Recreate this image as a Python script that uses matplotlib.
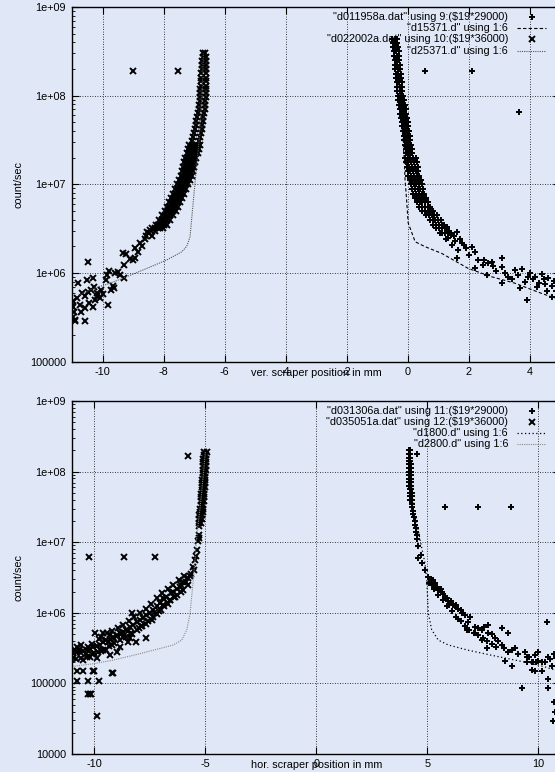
import numpy as np
import matplotlib.pyplot as plt
from matplotlib.ticker import FuncFormatter, LogLocator, NullFormatter

plt.rcParams['font.family'] = ['Liberation Sans', 'DejaVu Sans']
plt.rcParams['font.size'] = 7.8
bg = '#e0e8f8'

# ---------------- top panel (vertical scraper) ----------------
# "d011958a.dat" using 9:($19*29000)   (+)  dense band
tr_band_y = [4.37e8, 3.98e8, 3.55e8, 3.16e8, 2.82e8, 2.51e8, 2.24e8, 2.0e8, 1.78e8, 1.58e8,
             1.41e8, 1.26e8, 1.12e8, 1.0e8, 8.9e7, 7.9e7, 7.1e7, 6.3e7, 5.6e7, 5.0e7,
             4.5e7, 4.0e7, 3.5e7, 3.2e7, 2.8e7, 2.5e7, 2.24e7, 2.0e7, 1.78e7, 1.58e7,
             1.41e7, 1.26e7, 1.12e7, 1.0e7, 8.9e6, 7.9e6, 7.1e6, 6.3e6, 5.6e6, 5.0e6,
             4.5e6, 4.0e6, 3.5e6, 3.2e6, 2.8e6]
tr_band_xc = [-0.43, -0.42, -0.40, -0.385, -0.37, -0.355, -0.34, -0.325, -0.31, -0.295,
              -0.28, -0.27, -0.26, -0.24, -0.22, -0.195, -0.17, -0.145, -0.12, -0.10,
              -0.08, -0.06, -0.04, -0.02, 0.00, 0.025, 0.05, 0.08, 0.11, 0.14,
              0.17, 0.20, 0.24, 0.28, 0.32, 0.36, 0.42, 0.48, 0.56, 0.66,
              0.78, 0.90, 1.02, 1.12, 1.22]
tr_band_xl = [-0.51, -0.50, -0.48, -0.465, -0.45, -0.435, -0.42, -0.405, -0.39, -0.375,
              -0.36, -0.35, -0.34, -0.32, -0.32, -0.295, -0.27, -0.245, -0.22, -0.20,
              -0.18, -0.16, -0.14, -0.12, -0.10, -0.075, -0.05, -0.10, -0.07, -0.04,
              -0.01, 0.02, 0.06, 0.10, 0.14, 0.18, 0.24, 0.30, 0.38, 0.48,
              0.60, 0.72, 0.84, 0.94, 1.04]
tr_band_xr = [-0.35, -0.34, -0.32, -0.305, -0.29, -0.275, -0.26, -0.245, -0.23, -0.215,
              -0.20, -0.19, -0.18, -0.16, -0.12, -0.095, -0.07, -0.045, -0.02, 0.00,
              0.02, 0.04, 0.06, 0.08, 0.10, 0.125, 0.15, 0.26, 0.29, 0.32,
              0.35, 0.38, 0.42, 0.46, 0.50, 0.54, 0.60, 0.66, 0.74, 0.84,
              0.96, 1.08, 1.20, 1.30, 1.40]
# extra columns filling the lower, wider part of the band (same levels from 8.9e7 down)
tr_band2_y = tr_band_y[14:]
tr_band2_xl = [-0.27, -0.245, -0.22, -0.195, -0.17, -0.15, -0.13, -0.11, -0.09, -0.07, -0.05,
               -0.025, 0.00, -0.01, 0.02, 0.05, 0.08, 0.11, 0.15, 0.19, 0.23, 0.27, 0.33,
               0.39, 0.47, 0.57, 0.69, 0.81, 0.93, 1.03, 1.13]
tr_band2_xr = [-0.17, -0.145, -0.12, -0.095, -0.07, -0.05, -0.03, -0.01, 0.01, 0.03, 0.05,
               0.075, 0.10, 0.17, 0.20, 0.23, 0.26, 0.29, 0.33, 0.37, 0.41, 0.45, 0.51,
               0.57, 0.65, 0.75, 0.87, 0.99, 1.11, 1.21, 1.31]
# scattered tail and outliers
tr_x = [1.32, 1.77, 1.65, 2.2, 1.6, 2.3, 2.63, 3.08, 3.08, 3.51, 3.73, 4.0, 4.17, 4.39, 4.61,
        4.72, 3.9, 3.08, 3.68, 2.59, 3.3, 2.2, 4.72, 1.45, 1.9, 1.55, 2.0, 2.45, 2.8, 2.9,
        3.2, 3.4, 3.6, 3.85, 4.1, 4.3, 4.5, 4.8, 4.25, 4.55, 2.75, 3.95, 4.45, 4.85, 1.25,
        1.4, 1.72, 1.85, 2.1, 2.5, 1.35, 1.5, 1.62, 1.28, 0.56, 2.1, 3.65]
tr_y = [2.5e6, 2.2e6, 1.8e6, 1.74e6, 1.5e6, 1.41e6, 1.29e6, 1.48e6, 1.17e6, 1.08e6, 1.12e6,
        1.0e6, 9.1e5, 9.9e5, 8.7e5, 7.1e5, 5.0e5, 7.7e5, 6.8e5, 9.5e5, 9.1e5, 1.15e6, 5.4e5,
        2.1e6, 1.9e6, 2.3e6, 1.6e6, 1.25e6, 1.2e6, 1.05e6, 1.0e6, 8.5e5, 9.5e5, 8.0e5, 8.5e5,
        7.8e5, 7.6e5, 8.2e5, 6.9e5, 6.3e5, 1.35e6, 9.0e5, 8.6e5, 6.3e5, 2.4e6, 2.7e6, 2.45e6,
        2.05e6, 1.95e6, 1.4e6, 3.0e6, 2.6e6, 2.9e6, 3.3e6, 1.9e8, 1.9e8, 6.5e7]

# "d15371.d" using 1:6  (dashed)
t_dash_x = [-0.42, -0.3, -0.2, -0.12, -0.09, -0.04, 0.01, 0.24, 0.56, 1.11, 1.98, 2.75, 3.51, 4.39, 5.0]
t_dash_y = [4.4e8, 1.5e8, 5e7, 2e7, 1.12e7, 6.7e6, 3.7e6, 2.26e6, 1.99e6, 1.67e6, 1.13e6,
            9.1e5, 7.7e5, 5.9e5, 5.0e5]

# "d022002a.dat" using 10:($19*36000)  (x)  dense band, upper part
tl_band1_y = [3.0e8, 2.7e8, 2.45e8, 2.2e8, 2.0e8, 1.8e8, 1.6e8, 1.45e8, 1.3e8, 1.2e8, 1.07e8,
              9.7e7, 8.7e7, 7.9e7, 7.1e7, 6.4e7, 5.8e7, 5.2e7, 4.7e7, 4.2e7, 3.8e7, 3.4e7, 3.1e7]
tl_band1_xl = [-6.72, -6.73, -6.74, -6.75, -6.76, -6.77, -6.77, -6.78, -6.79, -6.80, -6.80,
               -6.81, -6.82, -6.84, -6.86, -6.88, -6.90, -6.93, -6.95, -6.97, -7.00, -7.03, -7.06]
tl_band1_xr = [-6.64, -6.63, -6.62, -6.62, -6.61, -6.61, -6.61, -6.61, -6.61, -6.61, -6.62,
               -6.63, -6.64, -6.65, -6.66, -6.68, -6.70, -6.72, -6.74, -6.76, -6.79, -6.82, -6.85]
# lower slanted part of the band
tl_band2_y = [2.8e7, 2.5e7, 2.24e7, 2.0e7, 1.78e7, 1.58e7, 1.41e7, 1.26e7, 1.12e7, 1.0e7,
              8.9e6, 7.9e6, 7.1e6, 6.3e6, 5.6e6, 5.0e6, 4.5e6, 4.0e6, 3.5e6, 3.2e6]
tl_band2_xc = [-6.99, -7.03, -7.07, -7.11, -7.15, -7.19, -7.23, -7.27, -7.32, -7.38,
               -7.45, -7.52, -7.58, -7.65, -7.71, -7.78, -7.88, -7.98, -8.09, -8.20]
tl_band2_xl = [-7.17, -7.21, -7.25, -7.29, -7.33, -7.37, -7.41, -7.45, -7.50, -7.56,
               -7.63, -7.70, -7.76, -7.83, -7.89, -7.96, -8.06, -8.16, -8.27, -8.38]
tl_band2_xr = [-6.81, -6.85, -6.89, -6.93, -6.97, -7.01, -7.05, -7.09, -7.14, -7.20,
               -7.27, -7.34, -7.40, -7.47, -7.53, -7.60, -7.70, -7.80, -7.91, -8.02]
tl_band2_xl2 = [-7.08, -7.12, -7.16, -7.20, -7.24, -7.28, -7.32, -7.36, -7.41, -7.47,
                -7.54, -7.61, -7.67, -7.74, -7.80, -7.87, -7.97, -8.07, -8.18, -8.29]
tl_band2_xr2 = [-6.90, -6.94, -6.98, -7.02, -7.06, -7.10, -7.14, -7.18, -7.23, -7.29,
                -7.36, -7.43, -7.49, -7.56, -7.62, -7.69, -7.79, -7.89, -8.00, -8.11]
tl_x = [-9.02, -7.54, -8.45, -8.6, -8.78, -8.7, -8.94, -8.85, -9.33, -9.25, -9.0, -9.1, -8.95,
        -9.3, -9.5, -9.6, -9.86, -9.8, -9.3, -9.45, -9.66, -9.72, -9.62, -10.32, -10.52, -10.81,
        -10.48, -10.68, -10.19, -10.09, -10.75, -10.32, -9.83, -10.98, -10.98, -10.9, -10.58,
        -10.98, -10.4, -10.3, -10.6, -10.5, -10.85, -10.2, -10.05, -9.9, -10.0, -10.7, -10.45,
        -10.25, -10.95, -11.0, -10.9, -10.6, -8.5, -8.3, -8.62, -8.4, -8.55]
tl_y = [1.9e8, 1.9e8, 3.1e6, 2.6e6, 2.2e6, 2.0e6, 1.9e6, 1.75e6, 1.7e6, 1.65e6, 1.4e6, 1.45e6,
        1.5e6, 1.25e6, 1.04e6, 1.0e6, 9.6e5, 1.05e6, 8.8e5, 9.5e5, 7.1e5, 6.4e5, 6.8e5, 8.8e5,
        8.3e5, 7.8e5, 1.35e6, 6.0e5, 6.0e5, 5.2e5, 4.4e5, 4.1e5, 4.4e5, 4.1e5, 3.2e5, 2.9e5,
        2.9e5, 4.8e5, 6.5e5, 7.0e5, 5.5e5, 6.2e5, 5.3e5, 5.5e5, 6.5e5, 8.3e5, 5.8e5, 3.6e5,
        4.6e5, 5.0e5, 3.6e5, 4.3e5, 3.0e5, 4.0e5, 2.8e6, 3.0e6, 2.4e6, 2.6e6, 2.9e6]

# "d25371.d" using 1:6  (dotted)
t_dot_x = [-10.8, -10.26, -9.76, -9.22, -8.56, -7.9, -7.41, -7.25, -7.14, -7.09, -7.03, -6.98,
           -6.85, -6.75, -6.7]
t_dot_y = [5.6e5, 6.8e5, 7.7e5, 9.1e5, 1.13e6, 1.41e6, 1.74e6, 2.0e6, 2.57e6, 4.0e6, 6.6e6,
           1.02e7, 3e7, 1e8, 3e8]

# ---------------- bottom panel (horizontal scraper) ----------------
# "d031306a.dat" using 11:($19*29000)  (+)
br_band_y = [2.0e8, 1.78e8, 1.58e8, 1.41e8, 1.26e8, 1.12e8, 1.0e8, 8.9e7, 7.9e7, 7.1e7,
             6.3e7, 5.6e7, 5.0e7, 4.5e7, 4.0e7]
br_band_xl = [4.16, 4.16, 4.16, 4.165, 4.17, 4.17, 4.175, 4.18, 4.185, 4.19, 4.20, 4.21, 4.22, 4.23, 4.24]
br_band_xr = [4.24, 4.24, 4.24, 4.245, 4.25, 4.25, 4.255, 4.26, 4.265, 4.27, 4.28, 4.29, 4.30, 4.31, 4.32]
br_x = [4.30, 4.33, 4.35, 4.38, 4.40, 4.43, 4.45, 4.48, 4.50, 4.52, 4.54,
        4.60, 4.60, 4.75, 4.90, 5.05, 5.28, 5.43, 5.50, 5.655, 5.80, 5.95, 6.18, 6.40, 6.63, 6.93,
        6.25, 6.56, 6.85, 7.16, 7.46, 7.76, 8.06, 8.36, 8.66, 8.96, 9.41, 9.71, 10.01, 10.16,
        10.46, 10.61, 9.86, 10.46, 9.26, 10.46, 10.73, 10.69, 10.39, 8.36, 8.66, 7.76, 7.46,
        7.68, 8.81, 8.51, 6.40, 6.78, 7.16, 9.5, 9.71, 10.16, 7.3, 7.55, 7.9, 8.2, 8.45, 8.8,
        9.1, 9.5, 9.85, 10.0, 10.3, 10.55, 10.7, 9.6, 9.75, 9.9, 5.15, 5.35, 5.6, 5.7, 5.9,
        6.05, 6.3, 6.5, 6.7, 6.0, 5.2, 4.7, 10.8, 10.75,
        5.81, 7.27, 8.78, 4.53]
br_y = [3.5e7, 3.2e7, 2.8e7, 2.5e7, 2.24e7, 2.0e7, 1.78e7, 1.58e7, 1.41e7, 1.26e7, 1.12e7,
        8.7e6, 5.9e6, 5.0e6, 4.1e6, 3.2e6, 2.9e6, 2.34e6, 2.1e6, 2.0e6, 1.62e6, 1.45e6, 1.29e6,
        1.15e6, 9.8e5, 8.7e5, 1.23e6, 9.8e5, 7.4e5, 6.3e5, 5.75e5, 5.1e5, 4.4e5, 3.5e5, 2.8e5,
        3.2e5, 2.8e5, 2.0e5, 2.8e5, 2.0e5, 2.4e5, 1.74e5, 1.48e5, 1.17e5, 8.5e4, 8.5e4, 5.5e4,
        2.9e4, 7.4e5, 6.0e5, 5.1e5, 6.8e5, 4.1e5, 3.2e5, 1.74e5, 2.1e5, 8.1e5, 5.75e5, 5.1e5,
        2.0e5, 1.55e5, 1.48e5, 6.0e5, 6.3e5, 5.0e5, 4.0e5, 3.2e5, 3.0e5, 2.6e5, 2.4e5, 2.5e5,
        2.1e5, 2.0e5, 2.2e5, 2.6e5, 2.4e5, 2.0e5, 2.0e5, 3.0e6, 2.6e6, 2.2e6, 1.85e6, 1.6e6,
        1.45e6, 1.3e6, 1.1e6, 9.2e5, 1.3e6, 2.5e6, 6.5e6, 2.3e5, 4.0e4,
        3.1e7, 3.1e7, 3.1e7, 1.8e8]
# second, lower track of the same data set
br2_x = [5.1, 5.3, 5.5, 5.7, 5.9, 6.1, 6.3, 6.5, 6.7, 6.9, 7.1, 7.3, 7.5, 7.7, 7.9, 8.1]
br2_y = [2.6e6, 2.2e6, 1.8e6, 1.5e6, 1.25e6, 1.05e6, 8.8e5, 7.6e5, 6.5e5, 5.7e5, 5.2e5, 4.8e5,
         4.4e5, 4.0e5, 3.6e5, 3.3e5]

# "d1800.d" using 1:6
b_dot1_x = [4.2, 4.3, 4.45, 4.7, 4.9, 4.98, 5.05, 5.2, 5.5, 5.95, 6.85, 7.91, 8.96, 10.01, 10.76, 11.0]
b_dot1_y = [2.0e8, 6.3e7, 2.5e7, 1.0e7, 5.0e6, 2.9e6, 9.8e5, 5.75e5, 4.1e5, 3.5e5, 2.95e5,
            2.5e5, 2.14e5, 1.82e5, 1.55e5, 1.48e5]

# "d035051a.dat" using 12:($19*36000)  (x)
bl_band_y = [1.9e8, 1.7e8, 1.51e8, 1.35e8, 1.2e8, 1.07e8, 9.5e7, 8.5e7, 7.6e7, 6.8e7, 6.0e7,
             5.4e7, 4.8e7, 4.3e7, 3.8e7, 3.4e7, 3.0e7, 2.7e7, 2.4e7, 2.1e7, 1.9e7]
bl_band_xl = [-5.07, -5.08, -5.09, -5.10, -5.10, -5.11, -5.12, -5.13, -5.14, -5.15, -5.16,
              -5.17, -5.18, -5.19, -5.20, -5.21, -5.23, -5.25, -5.27, -5.29, -5.31]
bl_band_xr = [-4.95, -4.96, -4.97, -4.98, -4.98, -4.99, -5.00, -5.01, -5.02, -5.03, -5.04,
              -5.05, -5.06, -5.07, -5.08, -5.09, -5.11, -5.13, -5.15, -5.17, -5.19]
bl_x = [-5.30, -5.30, -5.27, -5.33, -5.37, -5.41, -5.45, -5.57, -5.52, -5.64, -5.7, -5.79, -5.86,
        -6.02, -6.1, -6.16, -6.3, -6.46, -6.55, -6.76, -6.85, -6.91, -7.06, -7.2, -7.36, -7.5,
        -7.66, -7.8, -7.96, -8.1, -8.26, -8.4, -8.56, -8.7, -8.86, -9.0, -9.16, -9.3, -9.46,
        -9.6, -9.76, -9.9, -10.06, -10.2, -10.35, -10.5, -10.65, -10.8, -10.95,
        -10.95, -10.5, -9.9, -9.3, -9.0, -8.86, -9.61, -9.98, -7.66, -8.11, -8.49, -8.29, -10.8,
        -10.7, -10.4, -10.2, -10.0, -9.7, -9.5, -9.2, -9.4, -9.8, -10.1, -10.6, -10.9, -10.3,
        -9.1, -8.7, -8.3, -8.0, -7.7, -7.9, -7.4, -7.2, -7.0, -6.7, -6.6, -6.3, -6.0, -5.8,
        -7.3, -6.9, -6.4, -8.5, -8.8, -9.3, -8.4,
        -10.8, -10.5, -10.06, -10.0, -9.23, -9.15, -10.8, -10.28, -9.8, -10.3, -10.2, -10.15,
        -9.9, -10.24, -8.67, -7.29, -5.79]
bl_y = [1.7e7, 1.26e7, 1.14e7, 1.05e7, 7.8e6, 6.3e6, 5.6e6, 4.5e6, 4.0e6, 3.6e6, 3.3e6, 3.1e6,
        2.75e6, 2.75e6, 2.5e6, 2.34e6, 2.2e6, 2.0e6, 1.9e6, 1.7e6, 1.55e6, 1.62e6, 1.36e6,
        1.25e6, 1.1e6, 1.0e6, 9.3e5, 8.5e5, 7.9e5, 7.3e5, 6.8e5, 6.2e5, 5.75e5, 5.4e5, 5.1e5,
        4.8e5, 4.6e5, 4.3e5, 4.1e5, 3.8e5, 3.5e5, 3.4e5, 3.3e5, 3.1e5, 2.95e5, 2.9e5, 2.8e5,
        2.75e5, 2.7e5,
        2.3e5, 2.15e5, 2.3e5, 2.5e5, 2.8e5, 3.3e5, 5.1e5, 5.1e5, 4.4e5, 3.9e5, 3.9e5, 9.8e5,
        3.3e5, 3.0e5, 2.6e5, 2.4e5, 2.7e5, 2.9e5, 3.0e5, 3.5e5, 3.8e5, 4.2e5, 3.6e5, 3.5e5,
        3.0e5, 3.3e5, 4.2e5, 4.6e5, 5.0e5, 6.0e5, 7.0e5, 6.6e5, 8.0e5, 9.5e5, 1.1e6, 1.35e6,
        1.5e6, 1.8e6, 2.1e6, 2.5e6, 1.0e6, 1.3e6, 1.7e6, 5.5e5, 5.0e5, 4.8e5, 4.4e5,
        1.48e5, 1.48e5, 1.48e5, 1.48e5, 1.41e5, 1.41e5, 1.07e5, 1.07e5, 1.07e5, 7.1e4, 7.1e4,
        7.1e4, 3.5e4, 6.2e6, 6.2e6, 6.2e6, 1.68e8]
# upper and lower edges of the thick trail
bl_up_x = [-5.95, -6.2, -6.45, -6.7, -6.95, -7.2, -7.45, -7.7, -7.95, -8.2, -8.45, -8.7, -8.95,
           -9.2, -9.45, -9.7]
bl_up_y = [3.3e6, 2.9e6, 2.5e6, 2.2e6, 1.9e6, 1.6e6, 1.35e6, 1.15e6, 1.0e6, 8.8e5, 7.7e5, 6.8e5,
           6.1e5, 5.6e5, 5.1e5, 4.5e5]
bl_dn_x = [-6.1, -6.35, -6.6, -6.85, -7.1, -7.35, -7.6, -7.85, -8.1, -8.35, -8.6, -8.85, -9.1,
           -9.35, -9.6, -9.85, -10.1, -10.35, -10.6, -10.85]
bl_dn_y = [2.0e6, 1.7e6, 1.5e6, 1.25e6, 1.07e6, 8.8e5, 7.6e5, 6.6e5, 5.8e5, 5.2e5, 4.6e5, 4.1e5,
           3.7e5, 3.4e5, 3.0e5, 2.8e5, 2.6e5, 2.4e5, 2.3e5, 2.2e5]

# "d2800.d" using 1:6
b_dot2_x = [-11.0, -10.05, -9.15, -8.25, -7.35, -6.45, -6.07, -5.84, -5.69, -5.62, -5.545,
            -5.39, -5.2, -5.0]
b_dot2_y = [1.74e5, 1.9e5, 2.14e5, 2.5e5, 2.95e5, 3.5e5, 4.1e5, 5.75e5, 9.8e5, 1.7e6, 2.9e6,
            1.2e7, 4e7, 1.9e8]

top_labels = ['"d011958a.dat" using 9:($19*29000)', '"d15371.d" using 1:6',
              '"d022002a.dat" using 10:($19*36000)', '"d25371.d" using 1:6']
bot_labels = ['"d031306a.dat" using 11:($19*29000)', '"d035051a.dat" using 12:($19*36000)',
              '"d1800.d" using 1:6', '"d2800.d" using 1:6']

plus = dict(ls='none', marker='+', color='k', ms=4.5, mew=1.4)
cross = dict(ls='none', marker='x', color='k', ms=4.0, mew=1.4)
dash = dict(color='k', lw=0.8, ls=(0, (3, 2)))
dotg = dict(color='#555555', lw=0.8, ls=(0, (1, 1)))
dotk = dict(color='k', lw=0.9, ls=(0, (1, 2)))
dotl = dict(color='#888888', lw=0.8, ls=(0, (1, 1)))


def style(ax, xlim, ylim, xticks, xlabel):
    ax.set_facecolor(bg)
    ax.set_yscale('log')
    ax.set_xlim(*xlim)
    ax.set_ylim(*ylim)
    ax.set_xticks(xticks)
    fmt = FuncFormatter(lambda v, p: '%g' % v)
    ax.xaxis.set_major_formatter(fmt)
    ax.yaxis.set_major_locator(LogLocator(base=10, numticks=20))
    ax.yaxis.set_minor_locator(LogLocator(base=10, subs=np.arange(2, 10), numticks=20))
    ax.yaxis.set_major_formatter(fmt)
    ax.yaxis.set_minor_formatter(NullFormatter())
    ax.tick_params(which='both', direction='in', top=True, right=True)
    ax.tick_params(which='major', length=5, width=0.8)
    ax.tick_params(which='minor', length=2.5, width=0.6)
    ax.tick_params(axis='x', pad=3.5)
    ax.tick_params(axis='y', pad=4.5)
    ax.grid(True, which='major', color='k', ls=(0, (1, 2)), lw=0.6)
    for s in ax.spines.values():
        s.set_linewidth(1.0)
    ax.set_xlabel(xlabel)
    ax.xaxis.set_label_coords(0.5, -0.031)
    ax.xaxis.label.set_va('center')
    ax.set_ylabel('count/sec')
    ax.yaxis.set_label_coords(-0.10, 0.5)


def key(ax, labels, rows, handles):
    for lab, yy, h in zip(labels, rows, handles):
        ax.text(0.893, yy, lab, transform=ax.transAxes, ha='right', va='center', parse_math=False)
        if 'marker' in h:
            ax.plot([0.941], [yy], transform=ax.transAxes, clip_on=False, **h)
        else:
            ax.plot([0.911, 0.970], [yy, yy], transform=ax.transAxes, clip_on=False, **h)


fig = plt.figure(figsize=(5.55, 7.72), dpi=100, facecolor=bg)
ax1 = fig.add_axes([0.1303, 0.5313, 0.8793, 0.4596])
ax2 = fig.add_axes([0.1303, 0.0233, 0.8793, 0.4573])

# top
for xs in (tr_band_xl, tr_band_xc, tr_band_xr):
    ax1.plot(xs, tr_band_y, **plus)
for xs in (tr_band2_xl, tr_band2_xr):
    ax1.plot(xs, tr_band2_y, **plus)
ax1.plot(tr_x, tr_y, **plus)
ax1.plot(t_dash_x, t_dash_y, **dash)
for xs, ys in ((tl_band1_xl, tl_band1_y), (tl_band1_xr, tl_band1_y),
               (tl_band2_xl, tl_band2_y), (tl_band2_xl2, tl_band2_y), (tl_band2_xc, tl_band2_y),
               (tl_band2_xr2, tl_band2_y), (tl_band2_xr, tl_band2_y)):
    ax1.plot(xs, ys, **cross)
ax1.plot(tl_x, tl_y, **cross)
ax1.plot(t_dot_x, t_dot_y, **dotg)
style(ax1, (-11, 5), (1e5, 1e9), [-10, -8, -6, -4, -2, 0, 2, 4], 'ver. scraper position in mm')
key(ax1, top_labels, [0.9727, 0.940, 0.909, 0.877], [plus, dash, cross, dotg])

# bottom
for xs in (br_band_xl, br_band_xr):
    ax2.plot(xs, br_band_y, **plus)
ax2.plot(br_x, br_y, **plus)
ax2.plot(br2_x, br2_y, **plus)
for xs in (bl_band_xl, bl_band_xr):
    ax2.plot(xs, bl_band_y, **cross)
ax2.plot(bl_x, bl_y, **cross)
ax2.plot(bl_up_x, bl_up_y, **cross)
ax2.plot(bl_dn_x, bl_dn_y, **cross)
ax2.plot(b_dot1_x, b_dot1_y, **dotk)
ax2.plot(b_dot2_x, b_dot2_y, **dotl)
style(ax2, (-11, 11), (1e4, 1e9), [-10, -5, 0, 5, 10], 'hor. scraper position in mm')
key(ax2, bot_labels, [0.9717, 0.9414, 0.9085, 0.8773], [plus, cross, dotk, dotl])

fig.savefig('out.png', dpi=100, facecolor=bg)
